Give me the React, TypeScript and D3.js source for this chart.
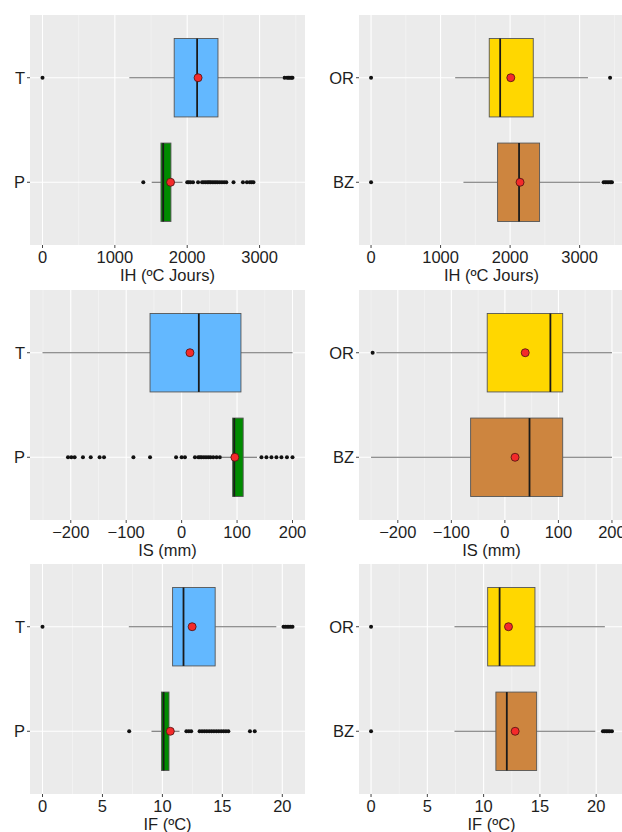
import * as d3 from 'd3';

const leftGroups = ['T', 'P'];
const rightGroups = ['OR', 'BZ'];

// box stats: [lower whisker, Q1, median, Q3, upper whisker, mean]
const ihT = [1200, 1820, 2137, 2425, 3320, 2150];
const ihP = [1509, 1637, 1668, 1775, 1935, 1770];
const ihOR = [1210, 1700, 1857, 2333, 3120, 2010];
const ihBZ = [1329, 1820, 2129, 2424, 3296, 2143];
const isT = [-251, -57, 31, 107, 200, 15];
const isP = [72, 92, 95, 111, 136, 96];
const isOR = [-240, -33, 85, 108, 200, 38];
const isBZ = [-250, -64, 46, 108, 200, 19];
const ifT = [7.2, 10.85, 11.76, 14.4, 19.5, 12.48];
const ifP = [9.09, 9.92, 10.1, 10.55, 11.43, 10.66];
const ifOR = [7.41, 10.36, 11.42, 14.56, 20.77, 12.21];
const ifBZ = [7.41, 11.09, 12.06, 14.71, 19.92, 12.8];

// outliers
const ihTOut = [0, 3345, 3380, 3400, 3420, 3440, 3455];
const ihPOut = [1393, 2000, 2020, 2045, 2080, 2150, 2205, 2230, 2255, 2280, 2300, 2320, 2345, 2370, 2395, 2420, 2450, 2480, 2510, 2540, 2640, 2770, 2825, 2865, 2890, 2915];
const ihOROut = [0, 3438];
const ihBZOut = [0, 3345, 3370, 3395, 3420, 3445, 3465];
const isTOut: number[] = [];
const isPOut = [-205, -199, -193, -178, -164, -148, -140, -87, -57, -10, 0, 6, 24, 30, 33, 36, 40, 44, 48, 52, 57, 63, 69, 144, 153, 162, 171, 180, 190, 200];
const isOROut = [-247];
const isBZOut: number[] = [];
const ifTOut = [0, 20.1, 20.25, 20.4, 20.55, 20.7, 20.85];
const ifPOut = [7.23, 12.0, 12.2, 12.4, 13.1, 13.3, 13.5, 13.7, 13.9, 14.1, 14.3, 14.5, 14.7, 14.9, 15.1, 15.3, 15.5, 17.3, 17.7];
const ifOROut = [0];
const ifBZOut = [0, 20.6, 20.75, 20.9, 21.05, 21.2, 21.4];

const ihTicks = [0, 1000, 2000, 3000];
const isTicks = [-200, -100, 0, 100, 200];
const ifTicks = [0, 5, 10, 15, 20];

const blue = '#63B8FF';
const green = '#008B00';
const gold = '#FFD700';
const peru = '#CD853F';

const rows = [
  { top: 15, bottom: 245 },
  { top: 290, bottom: 520 },
  { top: 564, bottom: 794 },
];
const cols = [
  { left: 30, right: 305 },
  { left: 359, right: 624 },
];

const panels = [
  { row: 0, col: 0, title: 'IH (ºC Jours)', ticks: ihTicks, groups: leftGroups, stats: [ihT, ihP], out: [ihTOut, ihPOut], fills: [blue, green] },
  { row: 0, col: 1, title: 'IH (ºC Jours)', ticks: ihTicks, groups: rightGroups, stats: [ihOR, ihBZ], out: [ihOROut, ihBZOut], fills: [gold, peru] },
  { row: 1, col: 0, title: 'IS (mm)', ticks: isTicks, groups: leftGroups, stats: [isT, isP], out: [isTOut, isPOut], fills: [blue, green] },
  { row: 1, col: 1, title: 'IS (mm)', ticks: isTicks, groups: rightGroups, stats: [isOR, isBZ], out: [isOROut, isBZOut], fills: [gold, peru] },
  { row: 2, col: 0, title: 'IF (ºC)', ticks: ifTicks, groups: leftGroups, stats: [ifT, ifP], out: [ifTOut, ifPOut], fills: [blue, green] },
  { row: 2, col: 1, title: 'IF (ºC)', ticks: ifTicks, groups: rightGroups, stats: [ifOR, ifBZ], out: [ifOROut, ifBZOut], fills: [gold, peru] },
];

const font = '"Liberation Sans", Arial, sans-serif';
const textColor = '#1e1e1e';
const fs = 16.5;

const Panel = ({ p }: { p: typeof panels[number] }) => {
  const { top, bottom } = rows[p.row];
  const { left, right } = cols[p.col];

  // ggplot-like 5% expansion
  const all = [...p.stats.flat(), ...p.out.flat()];
  const [lo, hi] = d3.extent(all) as [number, number];
  const pad = (hi - lo) * 0.05;
  const x = d3.scaleLinear().domain([lo - pad, hi + pad]).range([left, right]);
  const y = d3.scalePoint<string>().domain(p.groups).range([top, bottom]).padding(0.6);
  const bh = y.step() * 0.75;

  const step = p.ticks[1] - p.ticks[0];
  const minor = [p.ticks[0] - step / 2, ...p.ticks.map(t => t + step / 2)].filter(
    t => t > lo - pad && t < hi + pad
  );

  return (
    <g>
      <rect x={left} y={top} width={right - left} height={bottom - top} fill="#EBEBEB" />
      {minor.map(t => (
        <line key={'m' + t} x1={x(t)} x2={x(t)} y1={top} y2={bottom} stroke="#F7F7F7" strokeWidth={0.6} />
      ))}
      {p.ticks.map(t => (
        <line key={'M' + t} x1={x(t)} x2={x(t)} y1={top} y2={bottom} stroke="#fff" strokeWidth={1.1} />
      ))}
      {p.groups.map(g => (
        <line key={'h' + g} x1={left} x2={right} y1={y(g)} y2={y(g)} stroke="#fff" strokeWidth={1.1} />
      ))}

      {p.groups.map((g, i) => {
        const [lw, q1, med, q3, uw, mean] = p.stats[i];
        const cy = y(g) ?? 0;
        return (
          <g key={g}>
            {p.out[i].map((v, j) => (
              <circle key={j} cx={x(v)} cy={cy} r={2} fill="#111" />
            ))}
            <line x1={x(lw)} x2={x(q1)} y1={cy} y2={cy} stroke="#6e6e6e" strokeWidth={1.1} />
            <line x1={x(q3)} x2={x(uw)} y1={cy} y2={cy} stroke="#6e6e6e" strokeWidth={1.1} />
            <rect
              x={x(q1)}
              y={cy - bh / 2}
              width={x(q3) - x(q1)}
              height={bh}
              fill={p.fills[i]}
              stroke="#555"
              strokeWidth={0.9}
            />
            <line x1={x(med)} x2={x(med)} y1={cy - bh / 2} y2={cy + bh / 2} stroke="#1a1a1a" strokeWidth={1.8} />
            <circle cx={x(mean)} cy={cy} r={4} fill="#F42A2A" stroke="#4a1010" strokeWidth={0.8} />
          </g>
        );
      })}

      {/* y axis */}
      {p.groups.map(g => (
        <g key={'y' + g}>
          <line x1={left - 3} x2={left} y1={y(g)} y2={y(g)} stroke="#444" strokeWidth={1} />
          <text
            x={left - 5}
            y={y(g)}
            textAnchor="end"
            dominantBaseline="central"
            fontSize={fs}
            fontFamily={font}
            fill={textColor}
          >
            {g}
          </text>
        </g>
      ))}

      {/* x axis */}
      {p.ticks.map(t => (
        <g key={'x' + t}>
          <line x1={x(t)} x2={x(t)} y1={bottom} y2={bottom + 3} stroke="#444" strokeWidth={1} />
          <text
            x={x(t)}
            y={bottom + 12}
            textAnchor="middle"
            dominantBaseline="central"
            fontSize={fs}
            fontFamily={font}
            fill={textColor}
          >
            {t < 0 ? '\u2212' + Math.abs(t) : t}
          </text>
        </g>
      ))}
      <text
        x={(left + right) / 2}
        y={bottom + 30}
        textAnchor="middle"
        dominantBaseline="central"
        fontSize={fs}
        fontFamily={font}
        fill={textColor}
      >
        {p.title}
      </text>
    </g>
  );
};

const App = () => (
  <svg
    width={622}
    height={832}
    style={{ position: 'absolute', left: 0, top: 0, background: '#fff' }}
  >
    {panels.map((p, i) => (
      <Panel key={i} p={p} />
    ))}
  </svg>
);

export default App;
